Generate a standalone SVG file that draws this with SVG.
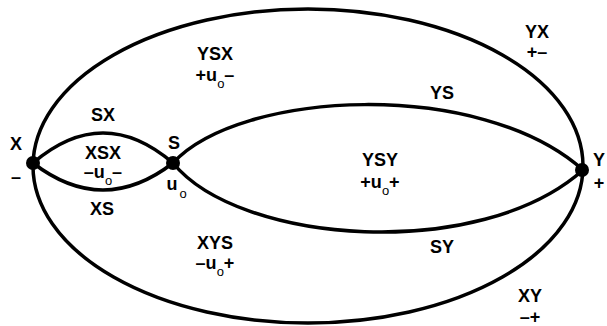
<svg xmlns="http://www.w3.org/2000/svg" width="607" height="326" viewBox="0 0 607 326">
<style>
.e{fill:none;stroke:#000;stroke-width:3.5}
.d{fill:#000}
text{font-family:"Liberation Sans",Arial,sans-serif;font-weight:bold;font-size:18px;fill:#000;text-anchor:middle}
.s{font-size:13px;font-weight:normal}
</style>
<rect width="607" height="326" fill="#fff"/>
<g id="connectors">
<ellipse class="e" cx="308" cy="166" rx="275" ry="157"/>
<path class="e" d="M33,163 Q103,103 173,163"/>
<path class="e" d="M33,163 Q103,217 173,163"/>
<path class="e" d="M173,163 C240,90 480,78 583,170"/>
<path class="e" d="M173,163 C240,245 480,262 583,170"/>
</g>
<g id="X"><circle class="d" cx="33" cy="163" r="7"/><text x="16" y="150">X</text><text x="16" y="183">–</text></g>
<g id="S"><circle class="d" cx="173" cy="163" r="7"/><text x="174" y="149">S</text><text x="172" y="190">u</text><text class="s" x="183" y="198">o</text></g>
<g id="Y"><circle class="d" cx="582" cy="170" r="7"/><text x="599" y="166">Y</text><text x="599" y="189">+</text></g>
<g id="labels">
<text x="103" y="121">SX</text>
<text x="103" y="159">XSX</text>
<text x="103" y="178">–u<tspan class="s" dy="7">o</tspan><tspan dy="-7">–</tspan></text>
<text x="102" y="215">XS</text>
<text x="215" y="60">YSX</text>
<text x="215" y="81">+u<tspan class="s" dy="7">o</tspan><tspan dy="-7">–</tspan></text>
<text x="537" y="38">YX</text>
<text x="537" y="58">+–</text>
<text x="442" y="99">YS</text>
<text x="380" y="166">YSY</text>
<text x="380" y="188">+u<tspan class="s" dy="7">o</tspan><tspan dy="-7">+</tspan></text>
<text x="442" y="253">SY</text>
<text x="215" y="249">XYS</text>
<text x="215" y="269">–u<tspan class="s" dy="7">o</tspan><tspan dy="-7">+</tspan></text>
<text x="530" y="302">XY</text>
<text x="530" y="323">–+</text>
</g>
</svg>
